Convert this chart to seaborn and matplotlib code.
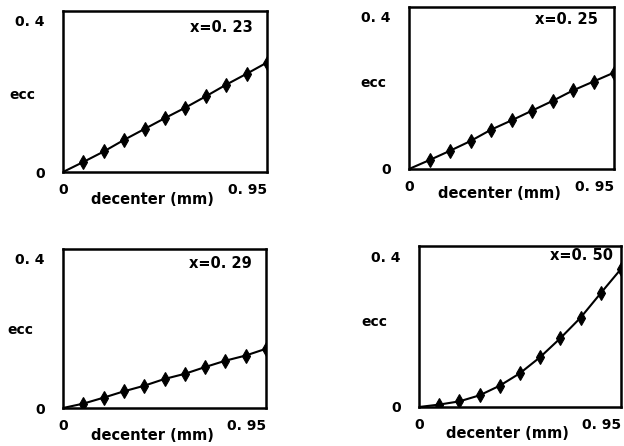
import matplotlib
matplotlib.use("Agg")
import matplotlib.pyplot as plt
import matplotlib.transforms as mtransforms
import seaborn as sns

# decenter positions (mm) and eccentricity for each conic constant x
decenter = [0.0, 0.095, 0.19, 0.285, 0.38, 0.475, 0.57, 0.665, 0.76, 0.855, 0.95]
ecc_023 = [0.0, 0.025, 0.051, 0.080, 0.107, 0.134, 0.160, 0.188, 0.217, 0.244, 0.272]
ecc_025 = [0.0, 0.022, 0.045, 0.069, 0.097, 0.120, 0.144, 0.168, 0.194, 0.216, 0.238]
ecc_029 = [0.0, 0.011, 0.026, 0.042, 0.056, 0.073, 0.086, 0.103, 0.119, 0.132, 0.149]
ecc_050 = [0.0, 0.006, 0.014, 0.029, 0.053, 0.084, 0.124, 0.171, 0.222, 0.283, 0.343]

panel_labels = ["x=0. 23", "x=0. 25", "x=0. 29", "x=0. 50"]
series = [ecc_023, ecc_025, ecc_029, ecc_050]
x_tick_labels = ["0", "0. 95"]
y_tick_labels = ["0", "0. 4"]

sns.set_theme(style="white")
plt.rcParams["font.family"] = ["DejaVu Sans"]
plt.rcParams["font.weight"] = "bold"
for key in ("text.color", "axes.labelcolor", "xtick.color", "ytick.color"):
    plt.rcParams[key] = "black"

W, H = 624, 446
fig = plt.figure(figsize=(W / 100, H / 100), dpi=100)

# axes boxes in pixels: left, top, right, bottom
boxes = [(63, 11, 267, 172), (409, 7, 614, 169), (63, 249, 266, 408), (419, 246, 621, 407)]
label_pos = [(0.93, 0.90), (0.92, 0.92), (0.93, 0.91), (0.96, 0.94)]
ecc_pos = [(-0.20, 0.48), (-0.176, 0.53), (-0.21, 0.49), (-0.22, 0.53)]
xlab_drop = [28, 24, 28, 27]

for (l, t, r, b), ys, lab, (tx, ty), (ex, ey), drop in zip(
        boxes, series, panel_labels, label_pos, ecc_pos, xlab_drop):
    ax = fig.add_axes([l / W, 1 - b / H, (r - l) / W, (b - t) / H])
    sns.lineplot(x=decenter, y=ys, ax=ax, color="black", linewidth=1.5,
                 marker="d", markersize=7, markeredgewidth=0.8,
                 markeredgecolor="black", markerfacecolor="black",
                 markevery=slice(1, None), clip_on=True)
    ax.set_xlim(0, 0.95)
    ax.set_ylim(0, 0.4)
    for s in ax.spines.values():
        s.set_visible(True)
        s.set_color("black")
        s.set_linewidth(1.8)

    ax.set_xticks([0, 0.95])
    ax.set_xticklabels(x_tick_labels, fontsize=10, fontweight="bold")
    xl = ax.get_xticklabels()
    xl[0].set_ha("center")
    xl[1].set_ha("right")
    ax.set_yticks([0, 0.4])
    ax.set_yticklabels(y_tick_labels, fontsize=10, fontweight="bold")
    ax.tick_params(axis="x", length=0, pad=8)
    ax.tick_params(axis="y", length=0, pad=13)
    # the upper y label sits a little below the top edge
    top_lab = ax.get_yticklabels()[1]
    top_lab.set_transform(top_lab.get_transform() +
                          mtransforms.ScaledTranslation(0, -0.10, fig.dpi_scale_trans))

    ax.set_xlabel("decenter (mm)", fontsize=10.5, fontweight="bold")
    ax.xaxis.label.set_va("center")
    ax.xaxis.set_label_coords(0.44, -drop / (b - t))
    ax.set_ylabel("ecc", fontsize=10, fontweight="bold", rotation=0)
    ax.yaxis.label.set_va("center")
    ax.yaxis.label.set_ha("center")
    ax.yaxis.set_label_coords(ex, ey)

    ax.text(tx, ty, lab, transform=ax.transAxes, ha="right", va="center",
            fontsize=10.5, fontweight="bold")

fig.savefig("out.png", dpi=100, facecolor="white")
